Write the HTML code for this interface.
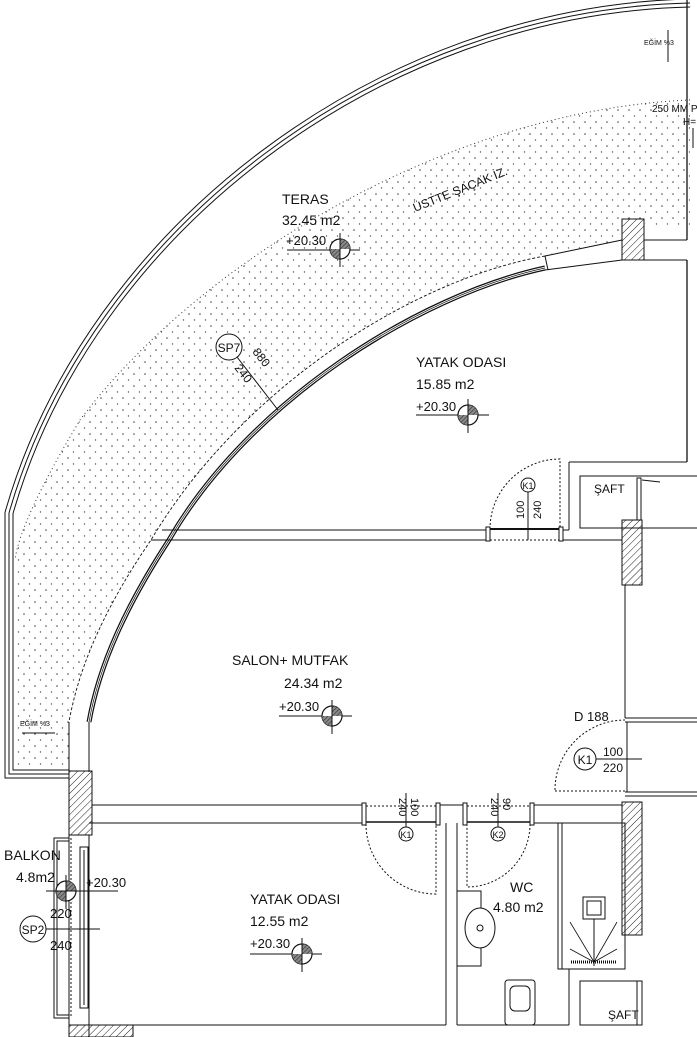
<!DOCTYPE html>
<html><head><meta charset="utf-8"><style>
html,body{margin:0;padding:0;background:#fff}
svg{display:block}
text{font-family:"Liberation Sans",sans-serif;fill:#111}
</style></head><body>
<svg width="697" height="1037" viewBox="0 0 697 1037" xmlns="http://www.w3.org/2000/svg">
<defs>
<pattern id="dots" width="11" height="12" patternUnits="userSpaceOnUse">
<circle cx="2" cy="2" r="0.8" fill="#444"/>
<circle cx="7.5" cy="8" r="0.7" fill="#555"/>
</pattern>
<pattern id="hatch" width="5" height="5" patternUnits="userSpaceOnUse" patternTransform="rotate(45)">
<line x1="0" y1="0" x2="0" y2="5" stroke="#222" stroke-width="1"/>
</pattern>
<pattern id="h2" width="3" height="3" patternUnits="userSpaceOnUse" patternTransform="rotate(45)">
<rect width="3" height="3" fill="#888"/>
<line x1="0" y1="0" x2="0" y2="3" stroke="#222" stroke-width="1"/>
</pattern>
<g id="lvl">
<circle r="10" fill="#fff" stroke="#111" stroke-width="1.2"/>
<path d="M0,0 L10,0 A10,10 0 0 0 0,-10 Z" fill="url(#h2)"/>
<path d="M0,0 L-10,0 A10,10 0 0 0 0,10 Z" fill="url(#h2)"/>
<line x1="0" y1="-16" x2="0" y2="18" stroke="#111"/>
</g>
</defs>

<!-- dots region -->
<path d="M690,100 C 450,110 200,260 80,420 Q 20,520 15,560 L15,765 L69,765 L69,722 C 80,660 110,600 151,540 C 240,390 410,280 545,255 L622,240 L622,220 L690,230 Z" fill="url(#dots)"/>
<path d="M690,100 C 450,110 200,260 80,420 Q 20,520 15,560" fill="none" stroke="#333" stroke-width="1" stroke-dasharray="1 3"/>

<!-- outer railing -->
<path d="M690,3 C 380,10 90,230 9,513 L9,774 L69,774" fill="none" stroke="#111" stroke-width="9"/>
<path d="M690,3 C 380,10 90,230 9,513 L9,774 L69,774" fill="none" stroke="#fff" stroke-width="7"/>
<path d="M690,3 C 380,10 90,230 9,513 L9,774 L69,774" fill="none" stroke="#111" stroke-width="1"/>

<!-- right top line -->
<line x1="687" y1="0" x2="687" y2="240" stroke="#111" stroke-width="1.3"/>
<line x1="644" y1="240" x2="687" y2="240" stroke="#111"/>
<line x1="668" y1="30" x2="668" y2="62" stroke="#111"/>
<text x="644" y="45" font-size="7">EĞİM %3</text>
<text x="652" y="112" font-size="10">250 MM P</text>
<text x="683" y="125" font-size="10">H=</text>
<line x1="693" y1="128" x2="693" y2="148" stroke="#111"/>

<!-- building wall arc -->
<path d="M545,256 C 410,280 240,390 151,540 C 110,600 80,660 69,722" fill="none" stroke="#111" stroke-width="0.9" stroke-dasharray="3 2"/>
<path d="M545,268 C 420,295 250,400 169,540 C 130,600 100,660 89,722" fill="none" stroke="#111" stroke-width="5"/>
<path d="M545,268 C 420,295 250,400 169,540 C 130,600 100,660 89,722" fill="none" stroke="#fff" stroke-width="2.5"/>
<path d="M545,268 C 420,295 250,400 169,540 C 130,600 100,660 89,722" fill="none" stroke="#111" stroke-width="0.7"/>
<line x1="545" y1="256" x2="622" y2="240" stroke="#111"/>
<line x1="545" y1="270" x2="622" y2="260" stroke="#111"/>
<line x1="545" y1="256" x2="548" y2="270" stroke="#111"/>
<line x1="69" y1="722" x2="69" y2="772" stroke="#111"/>
<line x1="89" y1="722" x2="89" y2="772" stroke="#111"/>

<!-- hatched columns -->
<rect x="622" y="219" width="22" height="41" fill="url(#hatch)" stroke="#111"/>
<rect x="622" y="520" width="20" height="65" fill="url(#hatch)" stroke="#111"/>
<rect x="622" y="802" width="20" height="133" fill="url(#hatch)" stroke="#111"/>
<rect x="69" y="771" width="23" height="64" fill="url(#hatch)" stroke="#111"/>
<rect x="69" y="1025" width="64" height="12" fill="url(#hatch)" stroke="#111"/>

<!-- upper bedroom right walls -->
<line x1="644" y1="260" x2="687" y2="260" stroke="#111"/>
<line x1="687" y1="260" x2="687" y2="462" stroke="#111" stroke-width="1.3"/>
<line x1="569" y1="462" x2="687" y2="462" stroke="#111"/>
<line x1="569" y1="462" x2="569" y2="530" stroke="#111"/>
<rect x="580" y="476" width="118" height="52" fill="none" stroke="#111"/>
<rect x="637" y="478" width="4" height="42" fill="none" stroke="#111"/>
<text x="594" y="493" font-size="12">ŞAFT</text>
<path d="M642,480 L660,482" stroke="#111"/>

<!-- partition top (y 530/540) -->
<line x1="162" y1="530" x2="487" y2="530" stroke="#111"/>
<line x1="151" y1="540" x2="487" y2="540" stroke="#111"/>
<line x1="562" y1="530" x2="569" y2="530" stroke="#111"/>
<line x1="562" y1="540" x2="622" y2="540" stroke="#111"/>
<line x1="490" y1="529" x2="560" y2="529" stroke="#111" stroke-width="2"/>
<line x1="490" y1="540" x2="560" y2="540" stroke="#111" stroke-dasharray="2 2"/>
<rect x="486" y="527" width="4" height="14" fill="#fff" stroke="#111"/>
<rect x="559" y="527" width="4" height="14" fill="#fff" stroke="#111"/>
<path d="M490,529 A70,70 0 0 1 560,459 L560,529" fill="none" stroke="#111" stroke-dasharray="2 2"/>
<circle cx="528" cy="485" r="7" fill="#fff" stroke="#111"/>
<text x="528" y="489" font-size="9" text-anchor="middle">K1</text>
<line x1="528" y1="492" x2="528" y2="540" stroke="#111"/>
<text transform="translate(524,519) rotate(-90)" font-size="11">100</text>
<text transform="translate(541,519) rotate(-90)" font-size="11">240</text>

<!-- salon right wall / door D188 -->
<line x1="625" y1="585" x2="625" y2="718" stroke="#111"/>
<line x1="625" y1="718" x2="697" y2="718" stroke="#111"/>
<line x1="625" y1="722" x2="697" y2="722" stroke="#111"/>
<line x1="627" y1="722" x2="627" y2="792" stroke="#111"/>
<line x1="625" y1="792" x2="697" y2="792" stroke="#111"/>
<line x1="625" y1="796" x2="697" y2="796" stroke="#111"/>
<path d="M555,790 A70,70 0 0 1 625,720" fill="none" stroke="#111" stroke-dasharray="2 2"/>
<line x1="555" y1="791" x2="625" y2="791" stroke="#111" stroke-dasharray="2 2"/>
<circle cx="585" cy="759" r="11" fill="#fff" stroke="#111"/>
<text x="585" y="764" font-size="12" text-anchor="middle">K1</text>
<line x1="596" y1="759" x2="642" y2="759" stroke="#111"/>
<text x="603" y="756" font-size="12">100</text>
<text x="603" y="772" font-size="12">220</text>
<text x="574" y="721" font-size="13">D 188</text>

<!-- partition lower (805/823) -->
<line x1="92" y1="805" x2="364" y2="805" stroke="#111"/>
<line x1="89" y1="823" x2="364" y2="823" stroke="#111"/>
<line x1="438" y1="805" x2="465" y2="805" stroke="#111"/>
<line x1="532" y1="805" x2="622" y2="805" stroke="#111"/>
<line x1="532" y1="823" x2="622" y2="823" stroke="#111"/>
<line x1="366" y1="806" x2="436" y2="806" stroke="#111" stroke-dasharray="2 2"/>
<line x1="366" y1="822" x2="436" y2="822" stroke="#111" stroke-width="1.5"/>
<line x1="467" y1="806" x2="530" y2="806" stroke="#111" stroke-dasharray="2 2"/>
<line x1="467" y1="822" x2="530" y2="822" stroke="#111" stroke-width="1.5"/>
<rect x="362" y="803" width="4" height="22" fill="#fff" stroke="#111"/>
<rect x="436" y="803" width="4" height="22" fill="#fff" stroke="#111"/>
<rect x="463" y="803" width="4" height="22" fill="#fff" stroke="#111"/>
<rect x="530" y="803" width="4" height="22" fill="#fff" stroke="#111"/>
<path d="M366,824 A70,70 0 0 0 436,894 L436,824" fill="none" stroke="#111" stroke-dasharray="2 2"/>
<path d="M530,824 A63,63 0 0 1 467,887 L467,824" fill="none" stroke="#111" stroke-dasharray="2 2"/>
<line x1="406" y1="793" x2="406" y2="828" stroke="#111"/>
<line x1="498" y1="793" x2="498" y2="828" stroke="#111"/>
<circle cx="406" cy="834" r="7" fill="#fff" stroke="#111"/>
<text x="406" y="838" font-size="9" text-anchor="middle">K1</text>
<circle cx="498" cy="834" r="7" fill="#fff" stroke="#111"/>
<text x="498" y="838" font-size="9" text-anchor="middle">K2</text>
<text transform="translate(399,798) rotate(90)" font-size="11">240</text>
<text transform="translate(411,798) rotate(90)" font-size="11">100</text>
<text transform="translate(491,798) rotate(90)" font-size="11">240</text>
<text transform="translate(503,798) rotate(90)" font-size="11">90</text>

<!-- lower bedroom -->
<line x1="89" y1="835" x2="89" y2="1037" stroke="#111"/>
<line x1="69" y1="835" x2="69" y2="1037" stroke="#111"/>
<line x1="446" y1="823" x2="446" y2="1025" stroke="#111"/>
<line x1="89" y1="1025" x2="446" y2="1025" stroke="#111"/>
<!-- balcony -->
<rect x="54" y="838" width="15" height="180" fill="none" stroke="#111"/>
<rect x="57" y="841" width="12" height="174" fill="none" stroke="#111"/>
<line x1="71" y1="838" x2="71" y2="1018" stroke="#111" stroke-dasharray="2 2"/>
<rect x="80" y="847" width="8" height="161" fill="none" stroke="#111"/>
<line x1="84" y1="850" x2="84" y2="1005" stroke="#111"/>
<text x="4" y="860" font-size="14">BALKON</text>
<text x="16" y="882" font-size="14">4.8m2</text>
<use href="#lvl" x="66" y="891"/>
<line x1="46" y1="891" x2="118" y2="891" stroke="#111"/>
<text x="86" y="887" font-size="13">+20.30</text>
<text x="50" y="918" font-size="13">220</text>
<circle cx="33" cy="929" r="13" fill="#fff" stroke="#111"/>
<text x="33" y="934" font-size="12" text-anchor="middle">SP2</text>
<line x1="46" y1="929" x2="100" y2="929" stroke="#111"/>
<text x="50" y="950" font-size="13">240</text>

<!-- WC -->
<line x1="457" y1="823" x2="457" y2="1025" stroke="#111"/>
<line x1="569" y1="969" x2="569" y2="1025" stroke="#111"/>
<line x1="457" y1="1025" x2="569" y2="1025" stroke="#111"/>
<rect x="558" y="823" width="67" height="146" fill="none" stroke="#111"/>
<line x1="562" y1="823" x2="562" y2="969" stroke="#111"/>
<rect x="583" y="897" width="22" height="22" fill="none" stroke="#111"/>
<rect x="587" y="901" width="14" height="14" fill="none" stroke="#111"/>
<line x1="594" y1="919" x2="594" y2="966" stroke="#111"/>
<line x1="571" y1="962" x2="617" y2="962" stroke="#111" stroke-width="3" stroke-dasharray="1 1"/>
<path d="M594,962 L570,922 M594,962 L570,949 M594,962 L617,922 M594,962 L617,949" stroke="#111" stroke-width="0.8"/>
<rect x="457" y="891" width="24" height="75" fill="none" stroke="#111"/>
<ellipse cx="480" cy="928" rx="15" ry="20" fill="#fff" stroke="#111"/>
<circle cx="480" cy="928" r="3" fill="none" stroke="#111"/>
<rect x="505" y="980" width="30" height="45" rx="3" fill="none" stroke="#111"/>
<rect x="510" y="986" width="20" height="25" rx="5" fill="none" stroke="#111"/>
<text x="510" y="892" font-size="14">WC</text>
<text x="493" y="912" font-size="14">4.80 m2</text>
<rect x="580" y="981" width="62" height="44" fill="none" stroke="#111"/>
<line x1="637" y1="981" x2="637" y2="1025" stroke="#111"/>
<text x="608" y="1019" font-size="12">ŞAFT</text>

<!-- labels -->
<text x="282" y="204" font-size="14">TERAS</text>
<text x="282" y="225" font-size="14">32.45 m2</text>
<text x="286" y="245" font-size="13">+20.30</text>
<line x1="287" y1="250" x2="360" y2="250" stroke="#111"/>
<use href="#lvl" x="340" y="249"/>
<text transform="translate(415,212) rotate(-22)" font-size="12">ÜSTTE ŞAÇAK İZ.</text>

<circle cx="229" cy="347" r="13" fill="#fff" stroke="#111"/>
<text x="229" y="352" font-size="12" text-anchor="middle">SP7</text>
<line x1="237" y1="357" x2="278" y2="410" stroke="#111"/>
<text transform="translate(252,352) rotate(52)" font-size="12">880</text>
<text transform="translate(234,368) rotate(52)" font-size="12">240</text>

<text x="416" y="367" font-size="14">YATAK ODASI</text>
<text x="416" y="389" font-size="14">15.85 m2</text>
<text x="416" y="411" font-size="13">+20.30</text>
<line x1="416" y1="415" x2="489" y2="415" stroke="#111"/>
<use href="#lvl" x="468" y="415"/>

<text x="232" y="665" font-size="14">SALON+ MUTFAK</text>
<text x="284" y="688" font-size="14">24.34 m2</text>
<text x="279" y="711" font-size="13">+20.30</text>
<line x1="279" y1="716" x2="352" y2="716" stroke="#111"/>
<use href="#lvl" x="332" y="716"/>
<text x="20" y="726" font-size="7">EĞİM %3</text>
<line x1="22" y1="733" x2="55" y2="733" stroke="#111"/>

<text x="250" y="904" font-size="14">YATAK ODASI</text>
<text x="250" y="926" font-size="14">12.55 m2</text>
<text x="250" y="948" font-size="13">+20.30</text>
<line x1="250" y1="954" x2="322" y2="954" stroke="#111"/>
<use href="#lvl" x="302" y="954"/>
</svg>
</body></html>
